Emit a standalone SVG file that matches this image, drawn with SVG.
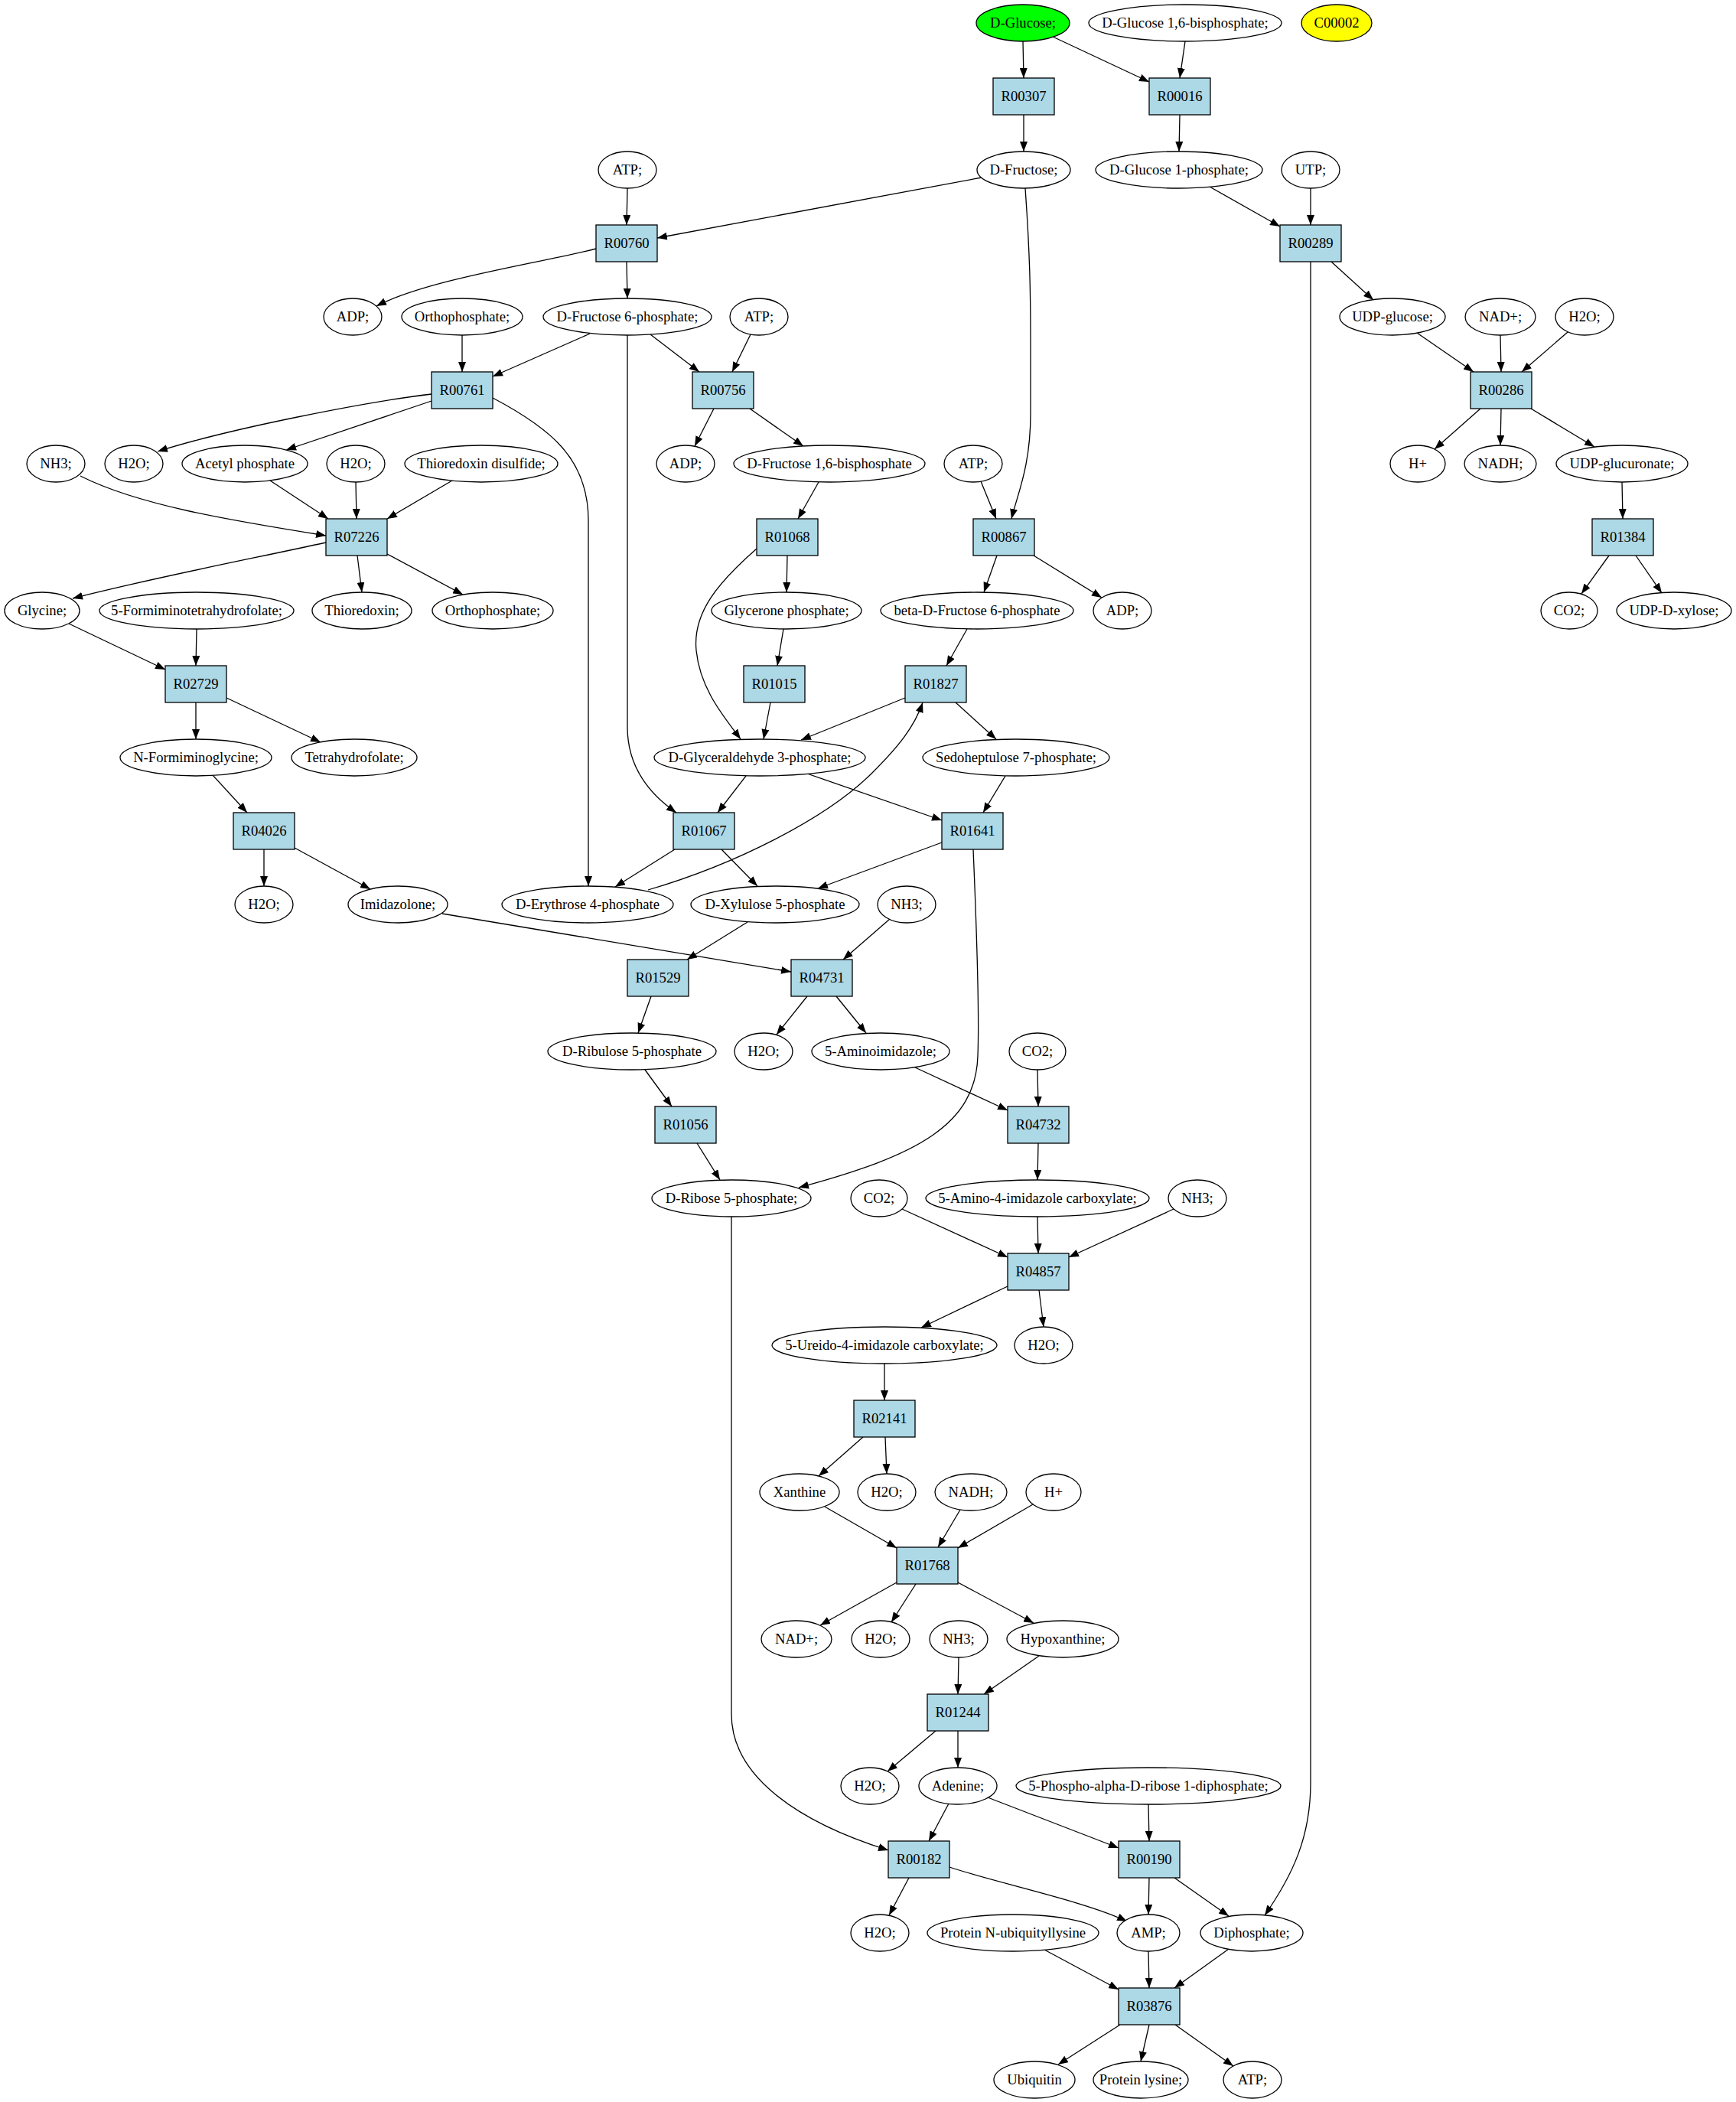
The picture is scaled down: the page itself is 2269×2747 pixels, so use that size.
<svg xmlns="http://www.w3.org/2000/svg" width="2269" height="2747" viewBox="0 0 2269 2747">
<style>
text{font-family:"Liberation Serif","Times New Roman",serif;font-size:18.67px;text-anchor:middle;fill:#000}
.n ellipse{fill:#fff;stroke:#000;stroke-width:1.3}
.r rect{fill:#add8e6;stroke:#000;stroke-width:1.3}
#edges path{fill:none;stroke:#000;stroke-width:1.3;marker-end:url(#ah)}
</style>
<defs>
<marker id="ah" markerUnits="userSpaceOnUse" viewBox="0 0 13 10" markerWidth="13" markerHeight="10" refX="13" refY="5" orient="auto"><path d="M0,0 L13,5 L0,10 z" fill="#000"/></marker>
</defs>
<rect width="2269" height="2747" fill="#fff"/>
<g id="edges">
<path d="M1337,54 L1338,102"/>
<path d="M1376,48 L1502,107"/>
<path d="M1549,54 L1542,102"/>
<path d="M1338,150 L1338,198"/>
<path d="M1542,150 L1541,198"/>
<path d="M820,246 L819,294"/>
<path d="M1283,232 L859,311"/>
<path d="M1340,246 C1346,330 1347,380 1347,450 L1347,540 C1347,610 1330,645 1322,678"/>
<path d="M1581,244 L1673,296"/>
<path d="M1713,246 L1713,294"/>
<path d="M779,325 C700,345 560,365 492,400"/>
<path d="M819,342 L820,390"/>
<path d="M1740,342 L1795,392"/>
<path d="M1713,342 L1713,2330 C1713,2400 1690,2450 1653,2503"/>
<path d="M604,438 L604,486"/>
<path d="M771,436 L644,492"/>
<path d="M850,437 L914,486"/>
<path d="M820,438 L820,950 C820,1000 845,1035 884,1062"/>
<path d="M981,437 L957,486"/>
<path d="M1852,435 L1926,486"/>
<path d="M1961,438 L1962,486"/>
<path d="M2049,434 L1989,486"/>
<path d="M564,515 C480,525 300,560 206,590"/>
<path d="M564,524 L374,588"/>
<path d="M644,520 C720,560 769,600 769,680 L769,1158"/>
<path d="M933,534 L908,583"/>
<path d="M980,534 L1050,583"/>
<path d="M1935,534 L1875,587"/>
<path d="M1962,534 L1961,582"/>
<path d="M2001,534 L2084,584"/>
<path d="M105,622 C180,660 300,680 426,700"/>
<path d="M353,628 L429,678"/>
<path d="M465,630 L466,678"/>
<path d="M591,628 L506,678"/>
<path d="M1070,630 L1043,678"/>
<path d="M1282,629 L1302,678"/>
<path d="M2120,630 L2121,678"/>
<path d="M426,709 C330,730 200,755 95,782"/>
<path d="M467,726 L473,774"/>
<path d="M506,724 L605,777"/>
<path d="M1029,726 L1028,774"/>
<path d="M989,717 C940,760 905,800 910,850 C915,900 945,935 968,966"/>
<path d="M1303,726 L1286,774"/>
<path d="M1351,726 L1440,781"/>
<path d="M2103,726 L2067,776"/>
<path d="M2138,726 L2172,775"/>
<path d="M90,815 L216,875"/>
<path d="M257,822 L256,870"/>
<path d="M1024,822 L1016,870"/>
<path d="M1264,822 L1237,870"/>
<path d="M256,918 L256,966"/>
<path d="M296,912 L419,970"/>
<path d="M1007,918 L998,966"/>
<path d="M1183,912 L1047,967"/>
<path d="M1249,918 L1302,966"/>
<path d="M847,1163 C960,1130 1080,1070 1140,1010 C1175,975 1195,950 1206,918"/>
<path d="M278,1013 L323,1062"/>
<path d="M975,1014 L938,1062"/>
<path d="M1055,1011 L1231,1072"/>
<path d="M1314,1014 L1285,1062"/>
<path d="M345,1110 L345,1158"/>
<path d="M385,1108 L484,1162"/>
<path d="M882,1110 L804,1159"/>
<path d="M943,1110 L990,1158"/>
<path d="M1231,1101 L1069,1161"/>
<path d="M1272,1110 C1278,1250 1280,1330 1278,1380 C1275,1470 1200,1510 1044,1552"/>
<path d="M578,1194 L1034,1270"/>
<path d="M1163,1201 L1102,1254"/>
<path d="M977,1205 L898,1254"/>
<path d="M851,1302 L834,1350"/>
<path d="M1055,1302 L1015,1352"/>
<path d="M1093,1302 L1132,1350"/>
<path d="M843,1398 L878,1446"/>
<path d="M1196,1395 L1317,1451"/>
<path d="M1356,1398 L1357,1446"/>
<path d="M911,1494 L941,1542"/>
<path d="M1357,1494 L1356,1542"/>
<path d="M1179,1580 L1317,1643"/>
<path d="M1356,1590 L1357,1638"/>
<path d="M1534,1580 L1397,1643"/>
<path d="M1317,1681 L1204,1735"/>
<path d="M1358,1686 L1364,1734"/>
<path d="M1156,1782 L1156,1830"/>
<path d="M1128,1878 L1070,1929"/>
<path d="M1157,1878 L1159,1926"/>
<path d="M1078,1969 L1172,2023"/>
<path d="M1255,1973 L1226,2022"/>
<path d="M1350,1966 L1252,2023"/>
<path d="M1172,2068 L1072,2124"/>
<path d="M1197,2070 L1165,2120"/>
<path d="M1252,2068 L1351,2121"/>
<path d="M1253,2166 L1252,2214"/>
<path d="M1358,2164 L1286,2214"/>
<path d="M1223,2262 L1160,2315"/>
<path d="M1252,2262 L1252,2310"/>
<path d="M956,1590 L956,2240 C956,2320 1040,2380 1161,2418"/>
<path d="M1240,2357 L1214,2406"/>
<path d="M1291,2349 L1462,2415"/>
<path d="M1501,2358 L1502,2406"/>
<path d="M1188,2454 L1162,2503"/>
<path d="M1241,2440 C1300,2460 1420,2485 1473,2511"/>
<path d="M1502,2454 L1501,2502"/>
<path d="M1535,2454 L1606,2504"/>
<path d="M1365,2548 L1462,2600"/>
<path d="M1501,2550 L1502,2598"/>
<path d="M1606,2547 L1535,2598"/>
<path d="M1464,2646 L1383,2698"/>
<path d="M1502,2646 L1491,2694"/>
<path d="M1536,2646 L1612,2700"/>
</g>
<g id="nodes">
<g id="c_glucose" class="n"><ellipse cx="1337" cy="30" rx="61" ry="24" style="fill:#00ff00"/><text x="1337" y="36">D-Glucose;</text></g>
<g id="c_glc16bp" class="n"><ellipse cx="1549" cy="30" rx="126" ry="24"/><text x="1549" y="36">D-Glucose 1,6-bisphosphate;</text></g>
<g id="c_C00002" class="n"><ellipse cx="1747" cy="30" rx="46" ry="24" style="fill:#ffff00"/><text x="1747" y="36">C00002</text></g>
<g id="R00307" class="r"><rect x="1298" y="102" width="80" height="48"/><text x="1338" y="132">R00307</text></g>
<g id="R00016" class="r"><rect x="1502" y="102" width="80" height="48"/><text x="1542" y="132">R00016</text></g>
<g id="c_atp1" class="n"><ellipse cx="820" cy="222" rx="38" ry="24"/><text x="820" y="228">ATP;</text></g>
<g id="c_fructose" class="n"><ellipse cx="1338" cy="222" rx="61" ry="24"/><text x="1338" y="228">D-Fructose;</text></g>
<g id="c_g1p" class="n"><ellipse cx="1541" cy="222" rx="109" ry="24"/><text x="1541" y="228">D-Glucose 1-phosphate;</text></g>
<g id="c_utp" class="n"><ellipse cx="1713" cy="222" rx="38" ry="24"/><text x="1713" y="228">UTP;</text></g>
<g id="R00760" class="r"><rect x="779" y="294" width="80" height="48"/><text x="819" y="324">R00760</text></g>
<g id="R00289" class="r"><rect x="1673" y="294" width="80" height="48"/><text x="1713" y="324">R00289</text></g>
<g id="c_adp1" class="n"><ellipse cx="461" cy="414" rx="38" ry="24"/><text x="461" y="420">ADP;</text></g>
<g id="c_pi1" class="n"><ellipse cx="604" cy="414" rx="79" ry="24"/><text x="604" y="420">Orthophosphate;</text></g>
<g id="c_f6p" class="n"><ellipse cx="820" cy="414" rx="110" ry="24"/><text x="820" y="420">D-Fructose 6-phosphate;</text></g>
<g id="c_atp2" class="n"><ellipse cx="992" cy="414" rx="38" ry="24"/><text x="992" y="420">ATP;</text></g>
<g id="c_udpglc" class="n"><ellipse cx="1820" cy="414" rx="69" ry="24"/><text x="1820" y="420">UDP-glucose;</text></g>
<g id="c_nad1" class="n"><ellipse cx="1961" cy="414" rx="46" ry="24"/><text x="1961" y="420">NAD+;</text></g>
<g id="c_h2o1" class="n"><ellipse cx="2071" cy="414" rx="38" ry="24"/><text x="2071" y="420">H2O;</text></g>
<g id="R00761" class="r"><rect x="564" y="486" width="80" height="48"/><text x="604" y="516">R00761</text></g>
<g id="R00756" class="r"><rect x="905" y="486" width="80" height="48"/><text x="945" y="516">R00756</text></g>
<g id="R00286" class="r"><rect x="1922" y="486" width="80" height="48"/><text x="1962" y="516">R00286</text></g>
<g id="c_nh3_1" class="n"><ellipse cx="73" cy="606" rx="38" ry="24"/><text x="73" y="612">NH3;</text></g>
<g id="c_h2o2" class="n"><ellipse cx="175" cy="606" rx="38" ry="24"/><text x="175" y="612">H2O;</text></g>
<g id="c_acp" class="n"><ellipse cx="320" cy="606" rx="82" ry="24"/><text x="320" y="612">Acetyl phosphate</text></g>
<g id="c_h2o3" class="n"><ellipse cx="465" cy="606" rx="38" ry="24"/><text x="465" y="612">H2O;</text></g>
<g id="c_trxds" class="n"><ellipse cx="629" cy="606" rx="100" ry="24"/><text x="629" y="612">Thioredoxin disulfide;</text></g>
<g id="c_adp2" class="n"><ellipse cx="896" cy="606" rx="38" ry="24"/><text x="896" y="612">ADP;</text></g>
<g id="c_fbp" class="n"><ellipse cx="1084" cy="606" rx="125" ry="24"/><text x="1084" y="612">D-Fructose 1,6-bisphosphate</text></g>
<g id="c_atp3" class="n"><ellipse cx="1272" cy="606" rx="38" ry="24"/><text x="1272" y="612">ATP;</text></g>
<g id="c_h1" class="n"><ellipse cx="1853" cy="606" rx="36" ry="24"/><text x="1853" y="612">H+</text></g>
<g id="c_nadh1" class="n"><ellipse cx="1961" cy="606" rx="47" ry="24"/><text x="1961" y="612">NADH;</text></g>
<g id="c_udpglcua" class="n"><ellipse cx="2120" cy="606" rx="86" ry="24"/><text x="2120" y="612">UDP-glucuronate;</text></g>
<g id="R07226" class="r"><rect x="426" y="678" width="80" height="48"/><text x="466" y="708">R07226</text></g>
<g id="R01068" class="r"><rect x="989" y="678" width="80" height="48"/><text x="1029" y="708">R01068</text></g>
<g id="R00867" class="r"><rect x="1272" y="678" width="80" height="48"/><text x="1312" y="708">R00867</text></g>
<g id="R01384" class="r"><rect x="2081" y="678" width="80" height="48"/><text x="2121" y="708">R01384</text></g>
<g id="c_gly" class="n"><ellipse cx="55" cy="798" rx="49" ry="24"/><text x="55" y="804">Glycine;</text></g>
<g id="c_fthf" class="n"><ellipse cx="257" cy="798" rx="127" ry="24"/><text x="257" y="804">5-Formiminotetrahydrofolate;</text></g>
<g id="c_trx" class="n"><ellipse cx="473" cy="798" rx="65" ry="24"/><text x="473" y="804">Thioredoxin;</text></g>
<g id="c_pi2" class="n"><ellipse cx="644" cy="798" rx="79" ry="24"/><text x="644" y="804">Orthophosphate;</text></g>
<g id="c_dhap" class="n"><ellipse cx="1028" cy="798" rx="98" ry="24"/><text x="1028" y="804">Glycerone phosphate;</text></g>
<g id="c_bf6p" class="n"><ellipse cx="1277" cy="798" rx="126" ry="24"/><text x="1277" y="804">beta-D-Fructose 6-phosphate</text></g>
<g id="c_adp3" class="n"><ellipse cx="1467" cy="798" rx="38" ry="24"/><text x="1467" y="804">ADP;</text></g>
<g id="c_co2_1" class="n"><ellipse cx="2051" cy="798" rx="37" ry="24"/><text x="2051" y="804">CO2;</text></g>
<g id="c_udpxyl" class="n"><ellipse cx="2188" cy="798" rx="75" ry="24"/><text x="2188" y="804">UDP-D-xylose;</text></g>
<g id="R02729" class="r"><rect x="216" y="870" width="80" height="48"/><text x="256" y="900">R02729</text></g>
<g id="R01015" class="r"><rect x="972" y="870" width="80" height="48"/><text x="1012" y="900">R01015</text></g>
<g id="R01827" class="r"><rect x="1183" y="870" width="80" height="48"/><text x="1223" y="900">R01827</text></g>
<g id="c_fig" class="n"><ellipse cx="256" cy="990" rx="99" ry="24"/><text x="256" y="996">N-Formiminoglycine;</text></g>
<g id="c_thf" class="n"><ellipse cx="463" cy="990" rx="82" ry="24"/><text x="463" y="996">Tetrahydrofolate;</text></g>
<g id="c_g3p" class="n"><ellipse cx="993" cy="990" rx="138" ry="24"/><text x="993" y="996">D-Glyceraldehyde 3-phosphate;</text></g>
<g id="c_s7p" class="n"><ellipse cx="1328" cy="990" rx="122" ry="24"/><text x="1328" y="996">Sedoheptulose 7-phosphate;</text></g>
<g id="R04026" class="r"><rect x="305" y="1062" width="80" height="48"/><text x="345" y="1092">R04026</text></g>
<g id="R01067" class="r"><rect x="880" y="1062" width="80" height="48"/><text x="920" y="1092">R01067</text></g>
<g id="R01641" class="r"><rect x="1231" y="1062" width="80" height="48"/><text x="1271" y="1092">R01641</text></g>
<g id="c_h2o4" class="n"><ellipse cx="345" cy="1182" rx="38" ry="24"/><text x="345" y="1188">H2O;</text></g>
<g id="c_imid" class="n"><ellipse cx="520" cy="1182" rx="65" ry="24"/><text x="520" y="1188">Imidazolone;</text></g>
<g id="c_e4p" class="n"><ellipse cx="768" cy="1182" rx="112" ry="24"/><text x="768" y="1188">D-Erythrose 4-phosphate</text></g>
<g id="c_xu5p" class="n"><ellipse cx="1013" cy="1182" rx="110" ry="24"/><text x="1013" y="1188">D-Xylulose 5-phosphate</text></g>
<g id="c_nh3_2" class="n"><ellipse cx="1185" cy="1182" rx="38" ry="24"/><text x="1185" y="1188">NH3;</text></g>
<g id="R01529" class="r"><rect x="820" y="1254" width="80" height="48"/><text x="860" y="1284">R01529</text></g>
<g id="R04731" class="r"><rect x="1034" y="1254" width="80" height="48"/><text x="1074" y="1284">R04731</text></g>
<g id="c_ru5p" class="n"><ellipse cx="826" cy="1374" rx="110" ry="24"/><text x="826" y="1380">D-Ribulose 5-phosphate</text></g>
<g id="c_h2o5" class="n"><ellipse cx="998" cy="1374" rx="38" ry="24"/><text x="998" y="1380">H2O;</text></g>
<g id="c_ai" class="n"><ellipse cx="1151" cy="1374" rx="90" ry="24"/><text x="1151" y="1380">5-Aminoimidazole;</text></g>
<g id="c_co2_2" class="n"><ellipse cx="1356" cy="1374" rx="37" ry="24"/><text x="1356" y="1380">CO2;</text></g>
<g id="R01056" class="r"><rect x="856" y="1446" width="80" height="48"/><text x="896" y="1476">R01056</text></g>
<g id="R04732" class="r"><rect x="1317" y="1446" width="80" height="48"/><text x="1357" y="1476">R04732</text></g>
<g id="c_r5p" class="n"><ellipse cx="956" cy="1566" rx="104" ry="24"/><text x="956" y="1572">D-Ribose 5-phosphate;</text></g>
<g id="c_co2_3" class="n"><ellipse cx="1149" cy="1566" rx="37" ry="24"/><text x="1149" y="1572">CO2;</text></g>
<g id="c_aic" class="n"><ellipse cx="1356" cy="1566" rx="146" ry="24"/><text x="1356" y="1572">5-Amino-4-imidazole carboxylate;</text></g>
<g id="c_nh3_3" class="n"><ellipse cx="1565" cy="1566" rx="38" ry="24"/><text x="1565" y="1572">NH3;</text></g>
<g id="R04857" class="r"><rect x="1317" y="1638" width="80" height="48"/><text x="1357" y="1668">R04857</text></g>
<g id="c_uic" class="n"><ellipse cx="1156" cy="1758" rx="147" ry="24"/><text x="1156" y="1764">5-Ureido-4-imidazole carboxylate;</text></g>
<g id="c_h2o6" class="n"><ellipse cx="1364" cy="1758" rx="38" ry="24"/><text x="1364" y="1764">H2O;</text></g>
<g id="R02141" class="r"><rect x="1116" y="1830" width="80" height="48"/><text x="1156" y="1860">R02141</text></g>
<g id="c_xan" class="n"><ellipse cx="1045" cy="1950" rx="52" ry="24"/><text x="1045" y="1956">Xanthine</text></g>
<g id="c_h2o7" class="n"><ellipse cx="1159" cy="1950" rx="38" ry="24"/><text x="1159" y="1956">H2O;</text></g>
<g id="c_nadh2" class="n"><ellipse cx="1269" cy="1950" rx="47" ry="24"/><text x="1269" y="1956">NADH;</text></g>
<g id="c_h2" class="n"><ellipse cx="1377" cy="1950" rx="36" ry="24"/><text x="1377" y="1956">H+</text></g>
<g id="R01768" class="r"><rect x="1172" y="2022" width="80" height="48"/><text x="1212" y="2052">R01768</text></g>
<g id="c_nad2" class="n"><ellipse cx="1041" cy="2142" rx="46" ry="24"/><text x="1041" y="2148">NAD+;</text></g>
<g id="c_h2o8" class="n"><ellipse cx="1151" cy="2142" rx="38" ry="24"/><text x="1151" y="2148">H2O;</text></g>
<g id="c_nh3_4" class="n"><ellipse cx="1253" cy="2142" rx="38" ry="24"/><text x="1253" y="2148">NH3;</text></g>
<g id="c_hyp" class="n"><ellipse cx="1389" cy="2142" rx="73" ry="24"/><text x="1389" y="2148">Hypoxanthine;</text></g>
<g id="R01244" class="r"><rect x="1212" y="2214" width="80" height="48"/><text x="1252" y="2244">R01244</text></g>
<g id="c_h2o9" class="n"><ellipse cx="1137" cy="2334" rx="38" ry="24"/><text x="1137" y="2340">H2O;</text></g>
<g id="c_ade" class="n"><ellipse cx="1252" cy="2334" rx="51" ry="24"/><text x="1252" y="2340">Adenine;</text></g>
<g id="c_prpp" class="n"><ellipse cx="1501" cy="2334" rx="173" ry="24"/><text x="1501" y="2340">5-Phospho-alpha-D-ribose 1-diphosphate;</text></g>
<g id="R00182" class="r"><rect x="1161" y="2406" width="80" height="48"/><text x="1201" y="2436">R00182</text></g>
<g id="R00190" class="r"><rect x="1462" y="2406" width="80" height="48"/><text x="1502" y="2436">R00190</text></g>
<g id="c_h2o10" class="n"><ellipse cx="1150" cy="2526" rx="38" ry="24"/><text x="1150" y="2532">H2O;</text></g>
<g id="c_pnub" class="n"><ellipse cx="1324" cy="2526" rx="112" ry="24"/><text x="1324" y="2532">Protein N-ubiquityllysine</text></g>
<g id="c_amp" class="n"><ellipse cx="1501" cy="2526" rx="41" ry="24"/><text x="1501" y="2532">AMP;</text></g>
<g id="c_ppi" class="n"><ellipse cx="1636" cy="2526" rx="67" ry="24"/><text x="1636" y="2532">Diphosphate;</text></g>
<g id="R03876" class="r"><rect x="1462" y="2598" width="80" height="48"/><text x="1502" y="2628">R03876</text></g>
<g id="c_ubq" class="n"><ellipse cx="1352" cy="2718" rx="53" ry="24"/><text x="1352" y="2724">Ubiquitin</text></g>
<g id="c_plys" class="n"><ellipse cx="1491" cy="2718" rx="62" ry="24"/><text x="1491" y="2724">Protein lysine;</text></g>
<g id="c_atp4" class="n"><ellipse cx="1637" cy="2718" rx="38" ry="24"/><text x="1637" y="2724">ATP;</text></g>
</g>
</svg>
